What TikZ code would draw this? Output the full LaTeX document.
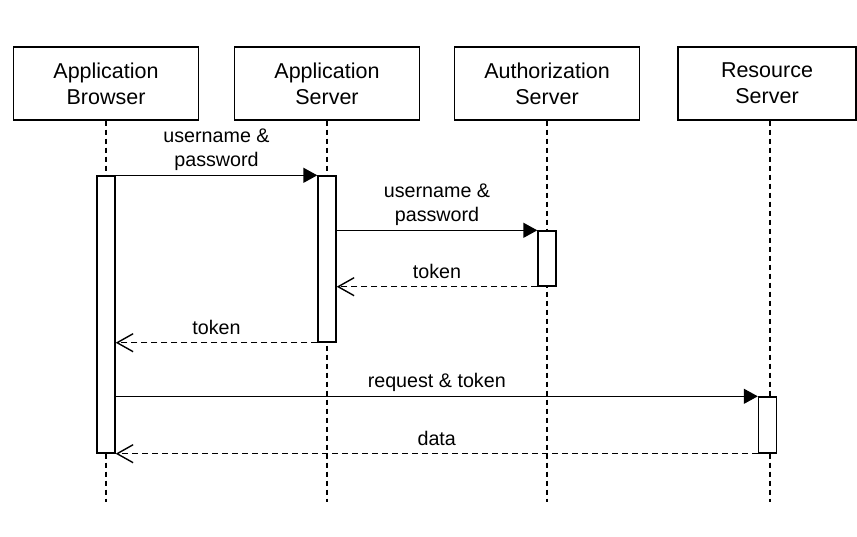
\documentclass[tikz,border=0pt]{standalone}
\usepackage{fontspec}
\setmainfont{Liberation Sans}
\usetikzlibrary{arrows.meta}

\begin{document}
\begin{tikzpicture}[x=1pt, y=-1pt,
  actor/.style={draw, line width=1.4pt, minimum width=185pt, minimum height=73pt,
    align=center, inner sep=0pt, font=\fontsize{21.5}{26}\selectfont},
  bar/.style={draw, fill=white, line width=1.4pt, minimum width=18pt, inner sep=0pt},
  life/.style={line width=1.4pt, dash pattern=on 5pt off 4pt},
  call/.style={line width=1.4pt, -{Triangle[length=14pt,width=15pt]}},
  reply/.style={line width=1.4pt, dash pattern=on 6pt off 4pt,
    -{Straight Barb[length=16pt,width=18pt,line width=1.4pt]}},
  lbl/.style={font=\fontsize{19.7}{24}\selectfont, align=center, inner sep=0pt, text depth=4pt}]

  \useasboundingbox (0,0) rectangle (857,536);

  % participants
  \node[actor] (browser)    at (106,83.5) {Application\\Browser};
  \node[actor] (appserver)  at (327,83.5) {Application\\Server};
  \node[actor] (authserver) at (547,83.5) {Authorization\\Server};
  \node[actor, minimum width=178pt] (resserver) at (767,83.5) {Resource\\Server};

  \coordinate (bottom) at (0,502);
  \foreach \n in {browser, appserver, authserver}
    \draw[life] (\n.south) -- (\n.south |- bottom);
  \draw[life] ([xshift=3pt]resserver.south) -- ([xshift=3pt]resserver.south |- bottom);

  % activations
  \node[bar, minimum height=277pt] (act1) at (106,314.5) {};
  \node[bar, minimum height=166pt] (act2) at (327,259) {};
  \node[bar, minimum height=55pt]  (act3) at (547,258.5) {};
  \node[bar, minimum height=56pt]  (act4) at (767.5,425) {};

  % messages
  \draw[call] (act1.north east) -- node[lbl, above=4pt]{username \&\\password} (act2.north west);
  \draw[call] (act2.east |- act3.north) -- node[lbl, above=4pt]{username \&\\password} (act3.north west);
  \draw[reply] (act3.south west) -- node[lbl, above=4pt]{token} (act2.east |- act3.south);
  \draw[reply] (act2.south west) -- node[lbl, above=4pt]{token} (act1.east |- act2.south);
  \draw[call] (act1.east |- act4.north) -- node[lbl, above=4pt]{request \& token} (act4.north west);
  \draw[reply] (act4.south west) -- node[lbl, above=4pt]{data} (act1.south east);

\end{tikzpicture}
\end{document}
